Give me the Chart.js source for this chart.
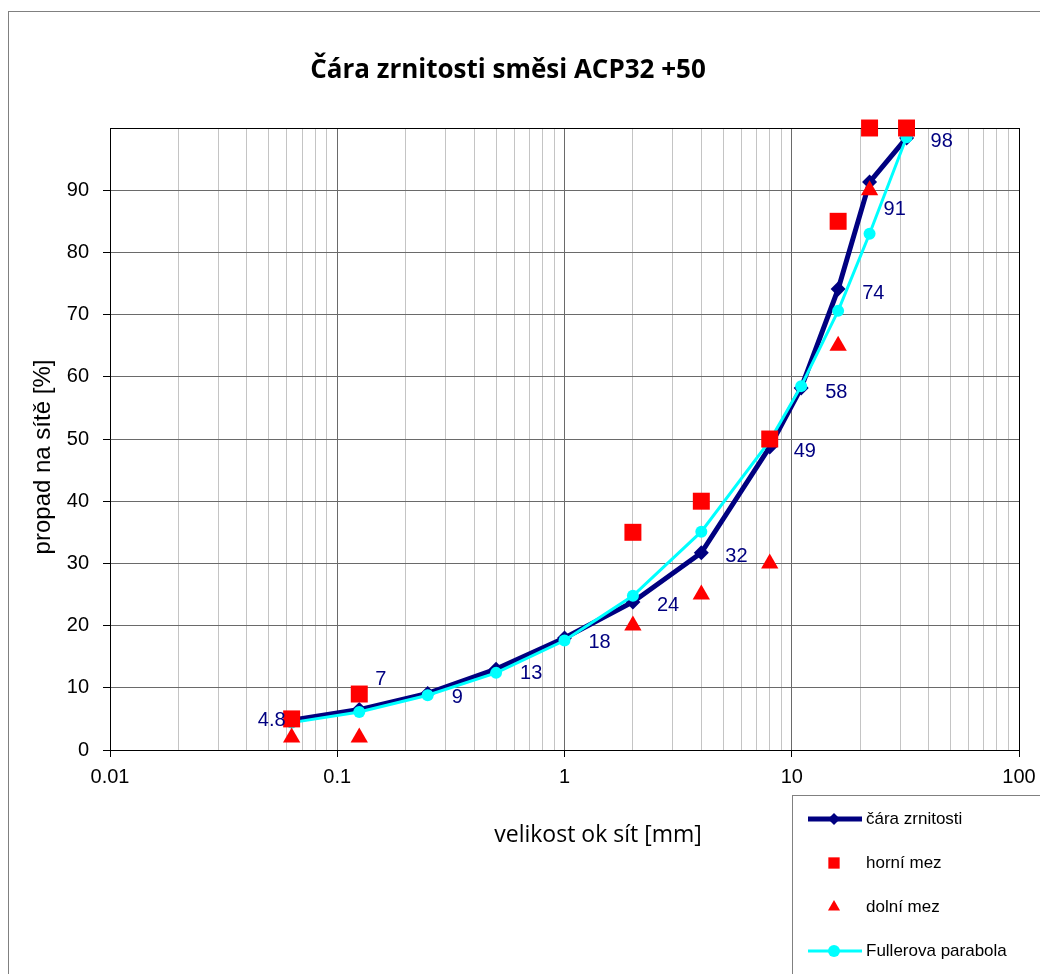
<!DOCTYPE html>
<html>
<head>
<meta charset="utf-8">
<script src="https://cdn.jsdelivr.net/npm/chart.js@4.4.1/dist/chart.umd.min.js"></script>
<style>
  html, body { margin: 0; padding: 0; background: #fff; }
  canvas { display: block; }
</style>
</head>
<body>
<canvas id="gradingChart" width="1040" height="974"></canvas>
<script>
// sieve sizes [mm] and passing values [%]
const sieveSizes = [0.063, 0.125, 0.25, 0.5, 1, 2, 4, 8, 11, 16, 22, 32];
const gradingCurve = [4.8, 6.5, 9.1, 13, 18, 23.8, 31.7, 48.7, 58.2, 74.1, 91.3, 98.4];
const upperLimit = [5, 9, null, null, null, 35, 40, 50, null, 85, 100, 100];
const lowerLimit = [2, 2, null, null, null, 20, 25, 30, null, 65, 90, null];
const fullerParabola = [4.4, 6.1, 8.8, 12.4, 17.6, 24.8, 35.1, 49.7, 58.5, 70.6, 83, 98.5];

const xTickLabels = ['0.01', '0.1', '1', '10', '100'];
const yTickLabels = ['0', '10', '20', '30', '40', '50', '60', '70', '80', '90'];

const NAVY = '#000080';
const CYAN = '#00FFFF';
const RED = '#FF0000';

function toPoints(values) {
  return sieveSizes.map((x, i) => ({ x: x, y: values[i] })).filter(p => p.y !== null);
}

function isDecade(v) {
  const lg = Math.log10(v);
  return Math.abs(lg - Math.round(lg)) < 1e-9;
}

// value labels of the grading curve, placed like in the original
function labelPlacement(i) {
  if (i === 0) return { dx: -6, dy: 0, align: 'right' };
  if (i === 1) return { dx: 16, dy: -30, align: 'left' };
  if (i === 10) return { dx: 14, dy: 27, align: 'left' };
  return { dx: 24, dy: 4, align: 'left' };
}

const decorations = {
  id: 'decorations',
  beforeDraw(chart) {
    const ctx = chart.ctx;
    ctx.save();
    ctx.fillStyle = '#fff';
    ctx.fillRect(0, 0, chart.width, chart.height);
    ctx.strokeStyle = '#808080';
    ctx.lineWidth = 1;
    ctx.strokeRect(8.5, 11.5, 1200, 1200);
    ctx.restore();
  },
  afterDraw(chart) {
    const ctx = chart.ctx;
    ctx.save();

    // title
    ctx.fillStyle = '#000';
    ctx.textAlign = 'center';
    ctx.textBaseline = 'alphabetic';
    ctx.font = 'bold 26px "Open Sans"';
    ctx.fillText('Čára zrnitosti směsi ACP32 +50', 508, 78);

    // axis titles
    ctx.font = '23px "Open Sans"';
    ctx.textBaseline = 'middle';
    ctx.fillText('velikost ok sít [mm]', 598, 835);

    ctx.save();
    ctx.translate(43, 457);
    ctx.rotate(-Math.PI / 2);
    ctx.font = '24px "Liberation Sans", Arial';
    ctx.fillText('propad na sítě [%]', 0, 0);
    ctx.restore();

    // data labels
    const meta = chart.getDatasetMeta(0);
    ctx.fillStyle = NAVY;
    ctx.font = '20px "Liberation Sans", Arial';
    ctx.textBaseline = 'middle';
    meta.data.forEach((pt, i) => {
      const v = gradingCurve[i];
      const txt = v < 5 ? v.toFixed(1) : String(Math.round(v));
      const p = labelPlacement(i);
      ctx.textAlign = p.align;
      ctx.fillText(txt, pt.x + p.dx, pt.y + p.dy);
    });

    // legend
    const lx = 792, ly = 795;
    ctx.strokeStyle = '#808080';
    ctx.lineWidth = 1;
    ctx.strokeRect(lx + 0.5, ly + 0.5, 400, 400);
    const rows = [819, 863, 907, 951];
    const sx = 834;
    ctx.font = '17px "Liberation Sans", Arial';
    ctx.textAlign = 'left';
    ctx.fillStyle = '#000';
    chart.data.datasets.forEach((ds, k) => {
      const y = rows[k];
      if (ds.showLine) {
        ctx.strokeStyle = ds.borderColor;
        ctx.lineWidth = ds.borderWidth;
        ctx.beginPath();
        ctx.moveTo(808, y);
        ctx.lineTo(862, y);
        ctx.stroke();
      }
      ctx.fillStyle = ds.backgroundColor;
      ctx.strokeStyle = ds.backgroundColor;
      const r = ds.pointStyle === 'rect' ? 8 : ds.pointStyle === 'triangle' ? 7 : 6;
      Chart.helpers.drawPoint(ctx, { pointStyle: ds.pointStyle, radius: r, borderWidth: 0, rotation: 0 }, sx, y);
      ctx.fillStyle = '#000';
      ctx.fillText(ds.label, 866, y);
    });
    ctx.restore();
  }
};

const ctx = document.getElementById('gradingChart').getContext('2d');

new Chart(ctx, {
  type: 'scatter',
  data: {
    datasets: [{
      label: 'čára zrnitosti',
      data: toPoints(gradingCurve),
      showLine: true,
      borderColor: NAVY,
      backgroundColor: NAVY,
      borderWidth: 5,
      pointStyle: 'rectRot',
      pointRadius: 7.5,
      pointBorderWidth: 0,
      order: 4,
      clip: false
    }, {
      label: 'horní mez',
      data: toPoints(upperLimit),
      showLine: false,
      borderColor: RED,
      backgroundColor: RED,
      pointStyle: 'rect',
      pointRadius: 12,
      pointBorderWidth: 0,
      order: 2,
      clip: false
    }, {
      label: 'dolní mez',
      data: toPoints(lowerLimit),
      showLine: false,
      borderColor: RED,
      backgroundColor: RED,
      pointStyle: 'triangle',
      pointRadius: 10,
      pointBorderWidth: 0,
      order: 1,
      clip: false
    }, {
      label: 'Fullerova parabola',
      data: toPoints(fullerParabola),
      showLine: true,
      borderColor: CYAN,
      backgroundColor: CYAN,
      borderWidth: 3,
      pointStyle: 'circle',
      pointRadius: 6,
      pointBorderWidth: 0,
      order: 3,
      clip: false
    }]
  },
  options: {
    responsive: false,
    animation: false,
    layout: {
      padding: { left: 0, top: 128, right: 21, bottom: 0 }
    },
    plugins: {
      legend: { display: false },
      tooltip: { enabled: false }
    },
    scales: {
      x: {
        type: 'logarithmic',
        min: 0.01,
        max: 100,
        afterBuildTicks(scale) {
          const ticks = [];
          for (let e = -2; e < 2; e++) {
            for (let m = 1; m < 10; m++) ticks.push({ value: m * Math.pow(10, e) });
          }
          ticks.push({ value: 100 });
          scale.ticks = ticks;
        },
        afterFit(scale) {
          scale.height = 224;
          scale.paddingLeft = 0;
          scale.paddingRight = 0;
        },
        ticks: {
          autoSkip: false,
          maxRotation: 0,
          padding: 8,
          color: '#000',
          font: { family: '"Liberation Sans", Arial', size: 20 },
          callback(value) {
            if (!isDecade(value)) return '';
            return xTickLabels[Math.round(Math.log10(value)) + 2];
          }
        },
        grid: {
          tickLength: 7,
          color(c) {
            const v = c.tick.value;
            if (v >= 100) return '#000';
            return isDecade(v) ? '#6a6a6a' : '#c4c4c4';
          },
          tickColor(c) {
            return isDecade(c.tick.value) ? '#000' : 'rgba(0,0,0,0)';
          }
        },
        border: { color: '#000', width: 1 }
      },
      y: {
        type: 'linear',
        min: 0,
        max: 100,
        afterFit(scale) { scale.width = 110; },
        ticks: {
          stepSize: 10,
          padding: 14,
          color: '#000',
          font: { family: '"Liberation Sans", Arial', size: 20 },
          callback(value) {
            return value >= 100 ? '' : yTickLabels[Math.round(value / 10)];
          }
        },
        grid: {
          tickLength: 7,
          color(c) { return c.tick.value >= 100 ? '#000' : '#6a6a6a'; },
          tickColor(c) { return c.tick.value >= 100 ? 'rgba(0,0,0,0)' : '#000'; }
        },
        border: { color: '#000', width: 1 }
      }
    }
  },
  plugins: [decorations]
});
</script>
</body>
</html>
